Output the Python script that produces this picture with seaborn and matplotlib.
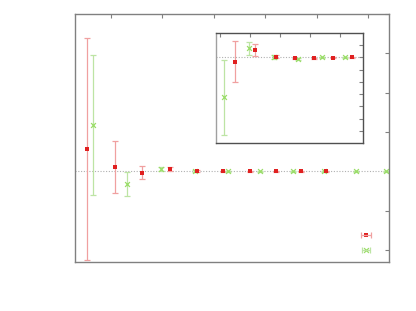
import numpy as np
import pandas as pd
import matplotlib
matplotlib.use("Agg")
import matplotlib.pyplot as plt
import seaborn as sns

# main panel data
red_x = [0.547, 1.083, 1.612, 2.149, 2.678, 3.19, 3.705, 4.209, 4.70, 5.178]
red_y = [0.575, 0.109, -0.036, 0.059, 0.008, 0.0, 0.0, 0.0, 0.0, 0.0]
red_err = [2.82, 0.65, 0.165, 0.05, 0.03, 0.01, 0.01, 0.01, 0.01, 0.01]
grn_x = [0.663, 1.322, 1.981, 2.634, 3.279, 3.907, 4.539, 5.140, 5.754, 6.341]
grn_y = [1.170, -0.323, 0.066, 0.005, 0.0, 0.0, 0.0, 0.0, 0.0, 0.0]
grn_err = [1.78, 0.31, 0.05, 0.02, 0.01, 0.01, 0.01, 0.01, 0.01, 0.01]

# isolated points with horizontal error
red_out = (5.953, -1.613, 0.093)
grn_out = (5.953, -1.995, 0.078)

# inset data
ired_x = [1.51, 2.177, 2.857, 3.5, 4.133, 4.777, 5.4]
ired_y = [-0.38, 0.59, 0.05, -0.08, -0.08, -0.03, 0.0]
ired_err = [1.67, 0.45, 0.15, 0.05, 0.04, 0.04, 0.03]
igrn_x = [1.133, 1.967, 2.79, 3.59, 4.40, 5.177]
igrn_y = [-3.25, 0.73, 0.0, -0.14, 0.0, 0.0]
igrn_err = [3.05, 0.54, 0.15, 0.06, 0.04, 0.04]

RED = "#e02020"
RED_L = "#f0a0a0"
GRN = "#99dd66"
GRN_L = "#bde4a4"
GRAY = "#808080"

sns.set_style("white")
fig = plt.figure(figsize=(4.16, 3.11), dpi=100)
ax = fig.add_axes([0.180, 0.1585, 0.755, 0.7975])
ins = fig.add_axes([0.5185, 0.539, 0.3545, 0.354])


def style(a, xt, yt):
    for s in a.spines.values():
        s.set_color(GRAY)
        s.set_linewidth(1.0)
    a.set_xticks(xt)
    a.set_yticks(yt)
    a.tick_params(direction="in", length=3, width=0.8, color=GRAY,
                  top=True, right=True, labelbottom=False, labelleft=False)
    a.set_xlabel("")
    a.set_ylabel("")


def draw(a, rx, ry, re, gx, gy, ge):
    a.axhline(0, color="#b0b0b0", lw=0.8, ls=(0, (1, 1.5)), zorder=0)
    a.errorbar(rx, ry, yerr=re, fmt="none", ecolor=RED_L, elinewidth=0.9,
               capsize=2.5, capthick=0.9, zorder=1)
    a.errorbar(gx, gy, yerr=ge, fmt="none", ecolor=GRN_L, elinewidth=0.9,
               capsize=2.5, capthick=0.9, zorder=1)
    sns.scatterplot(x=gx, y=gy, ax=a, marker="x", color=GRN, s=12,
                    linewidth=0.9, zorder=2)
    sns.scatterplot(x=rx, y=ry, ax=a, marker="s", color=RED, s=6,
                    linewidth=0, zorder=3)


draw(ax, red_x, red_y, red_err, grn_x, grn_y, grn_err)
ax.errorbar([red_out[0]], [red_out[1]], xerr=[red_out[2]], fmt="none",
            ecolor=RED_L, elinewidth=0.9, capsize=2, capthick=0.9)
ax.errorbar([grn_out[0]], [grn_out[1]], xerr=[grn_out[2]], fmt="none",
            ecolor=GRN_L, elinewidth=0.9, capsize=2, capthick=0.9)
sns.scatterplot(x=[grn_out[0]], y=[grn_out[1]], ax=ax, marker="x",
                color=GRN, s=12, linewidth=0.9)
sns.scatterplot(x=[red_out[0]], y=[red_out[1]], ax=ax, marker="s",
                color=RED, s=6, linewidth=0)
ax.set_xlim(0.308, 6.40)
ax.set_ylim(-2.30, 4.01)
style(ax, [1, 2, 3, 4, 5, 6], [-2, -1, 0, 1, 2, 3, 4])

draw(ins, ired_x, ired_y, ired_err, igrn_x, igrn_y, igrn_err)
ins.set_xlim(0.857, 5.777)
ins.set_ylim(-7.0, 1.95)
style(ins, [1, 2, 3, 4, 5], [-6, -5, -4, -3, -2, -1, 0, 1])
ins.spines["left"].set_color("#a0a0a0")
ins.spines["top"].set_color("#505050")
ins.spines["right"].set_color("#505050")
ins.spines["bottom"].set_color("#505050")

fig.savefig("out.png", dpi=100)
